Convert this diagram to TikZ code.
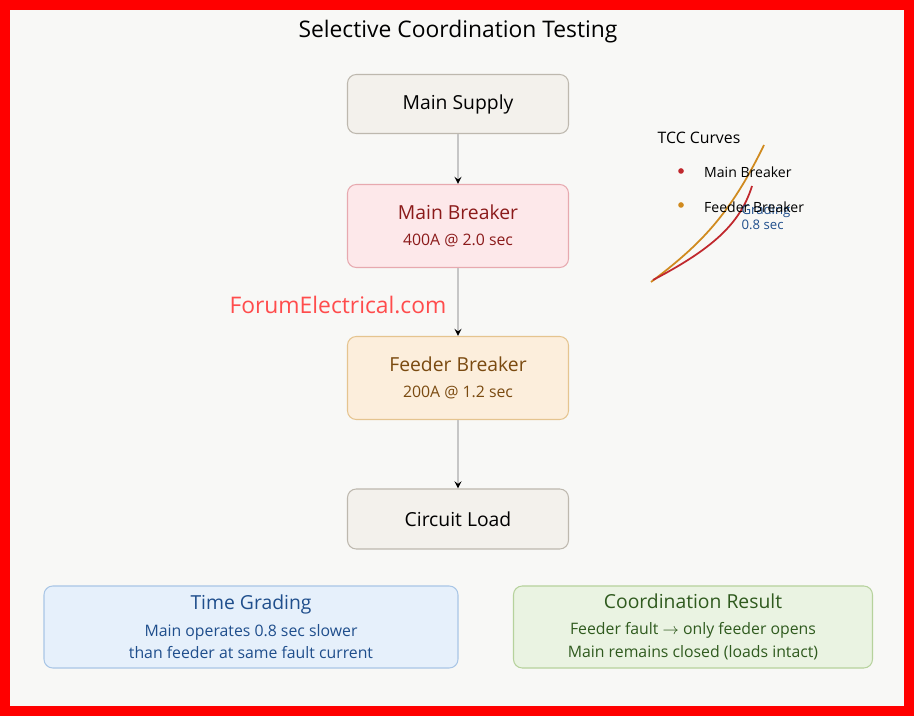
\documentclass[tikz,border=0pt]{standalone}
\usepackage{fontspec}
\setmainfont{Open Sans}
\definecolor{bg}{HTML}{F8F8F6}
\definecolor{neutralfill}{HTML}{F3F1EC}
\definecolor{neutraldraw}{HTML}{BDB8AE}
\definecolor{mainfill}{HTML}{FDE8EA}
\definecolor{maindraw}{HTML}{E7A9AF}
\definecolor{maintext}{HTML}{8B1A1A}
\definecolor{feedfill}{HTML}{FCEEDC}
\definecolor{feeddraw}{HTML}{E5C48F}
\definecolor{feedtext}{HTML}{7A4A10}
\definecolor{bluefill}{HTML}{E6F0FB}
\definecolor{bluedraw}{HTML}{A9C6E6}
\definecolor{bluetext}{HTML}{1F4E8C}
\definecolor{greenfill}{HTML}{EAF3E2}
\definecolor{greendraw}{HTML}{B6D29C}
\definecolor{greentext}{HTML}{2F5A1E}
\definecolor{curvea}{HTML}{C0282D}
\definecolor{curveb}{HTML}{D08A1E}
\begin{document}
\begin{tikzpicture}[x=0.02cm,y=-0.02cm]
  \tikzstyle{box}=[rounded corners=5pt, draw, line width=0.6pt, align=center, font=\fontsize{11}{13}\selectfont]
  \tikzstyle{flow}=[draw=gray!45, line width=0.8pt, ->, >=stealth]
  \useasboundingbox (0,0) rectangle (914,716);
  \fill[red] (0,0) rectangle (914,716);
  \fill[bg] (10,10) rectangle (904,706);

  \node[font=\fontsize{13}{15}\selectfont] (title) at (458,32) {Selective Coordination Testing};

  \node[box, fill=neutralfill, draw=neutraldraw, minimum width=221*0.02cm, minimum height=59*0.02cm] (supply) at (458,104) {Main Supply};
  \node[box, fill=mainfill, draw=maindraw, text=maintext, minimum width=221*0.02cm, minimum height=83*0.02cm] (main) at (458,226) {Main Breaker\\[2pt]{\fontsize{9}{11}\selectfont 400A @ 2.0 sec}};
  \node[box, fill=feedfill, draw=feeddraw, text=feedtext, minimum width=221*0.02cm, minimum height=83*0.02cm] (feeder) at (458,378) {Feeder Breaker\\[2pt]{\fontsize{9}{11}\selectfont 200A @ 1.2 sec}};
  \node[box, fill=neutralfill, draw=neutraldraw, minimum width=221*0.02cm, minimum height=60*0.02cm] (load) at (458,519) {Circuit Load};

  \path[flow] (supply) edge (main);
  \path[flow] (main) edge (feeder);
  \path[flow] (feeder) edge (load);

  \node[text=red!70, font=\fontsize{13}{15}\selectfont] (watermark) at (338,305) {ForumElectrical.com};

  \node[box, fill=bluefill, draw=bluedraw, text=bluetext, minimum width=414*0.02cm, minimum height=82*0.02cm] (grading) at (251,627) {Time Grading\\[2pt]{\fontsize{9}{11}\selectfont Main operates 0.8 sec slower}\\{\fontsize{9}{11}\selectfont than feeder at same fault current}};
  \node[box, fill=greenfill, draw=greendraw, text=greentext, minimum width=359*0.02cm, minimum height=82*0.02cm] (result) at (693,627) {Coordination Result\\[2pt]{\fontsize{9}{11}\selectfont Feeder fault $\rightarrow$ only feeder opens}\\{\fontsize{9}{11}\selectfont Main remains closed (loads intact)}};

  % TCC inset
  \node[font=\fontsize{9}{11}\selectfont] (tcc) at (699,138) {TCC Curves};
  \draw[curveb, line width=1pt] (651,282) .. controls (700,245) and (730,215) .. (764,145);
  \draw[curvea, line width=1pt] (653,280) .. controls (710,250) and (740,225) .. (752,186);
  \node[text=bluetext, font=\fontsize{7.5}{9}\selectfont, align=left] (gap) at (766,217) {Grading\\0.8 sec};
  \fill[curvea] (681,171) circle (1.6pt);
  \node[anchor=west, font=\fontsize{8}{10}\selectfont] (lmain) at (698,172) {Main Breaker};
  \fill[curveb] (681,205) circle (1.6pt);
  \node[anchor=west, font=\fontsize{8}{10}\selectfont] (lfeed) at (698,207) {Feeder Breaker};
\end{tikzpicture}
\end{document}
